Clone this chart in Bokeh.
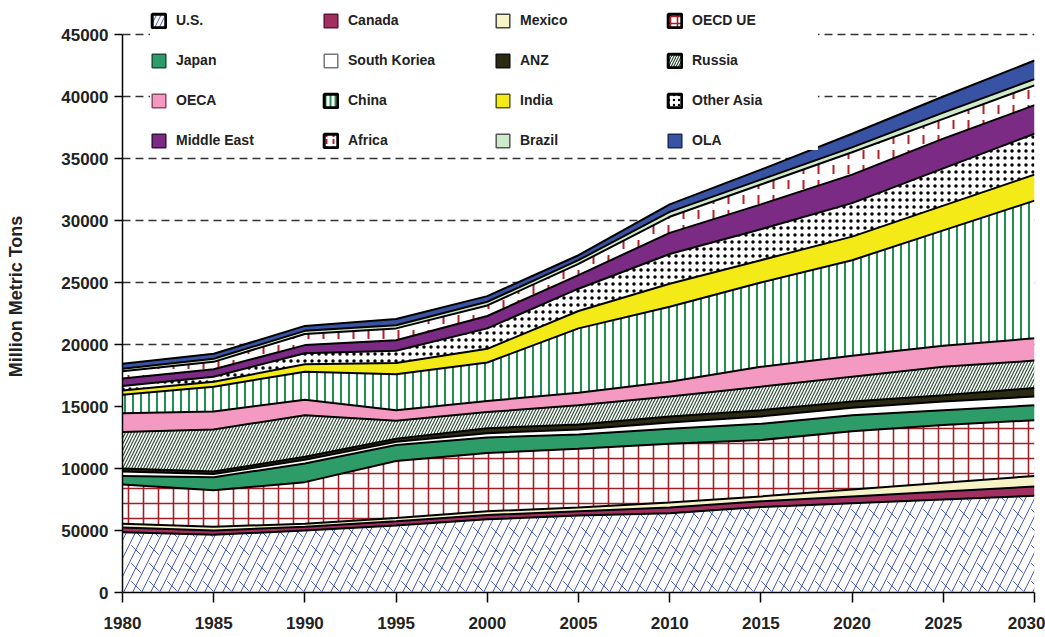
from bokeh.plotting import figure
from bokeh.models import ColumnDataSource, Range1d, FixedTicker, Legend, LegendItem
from bokeh.transform import stack
from bokeh.embed import file_html
from bokeh.resources import INLINE

FONT = "Liberation Sans"

# ---------------- data (million metric tons) ----------------
years = [1980, 1985, 1990, 1995, 2000, 2005, 2010, 2015, 2020, 2025, 2030]
us          = [4850, 4650, 5000, 5400, 5900, 6200, 6400, 6900, 7200, 7500, 7800]
canada      = [400, 350, 300, 350, 350, 350, 450, 450, 550, 650, 750]
mexico      = [300, 300, 250, 250, 300, 300, 400, 400, 550, 700, 850]
oecd_ue     = [3150, 2950, 3350, 4600, 4700, 4750, 4750, 4550, 4700, 4650, 4500]
japan       = [700, 1050, 1500, 1300, 1250, 1150, 1200, 1300, 1300, 1200, 1200]
south_korea = [350, 250, 300, 250, 350, 400, 500, 600, 600, 700, 700]
anz         = [250, 200, 250, 250, 400, 400, 500, 500, 500, 500, 700]
russia      = [2950, 3400, 3350, 1450, 1300, 1550, 1600, 1900, 2000, 2300, 2200]
oeca        = [1500, 1450, 1250, 850, 900, 1000, 1200, 1600, 1700, 1700, 1800]
china       = [1500, 2000, 2250, 2900, 3100, 5200, 6050, 6800, 7700, 9300, 11100]
india       = [350, 400, 600, 900, 1100, 1400, 1850, 1800, 1900, 2000, 2100]
other_asia  = [350, 400, 900, 1000, 1650, 1800, 2400, 2500, 2700, 3000, 3300]
middle_east = [600, 600, 650, 850, 1000, 1100, 1700, 2000, 2300, 2400, 2300]
africa      = [600, 600, 900, 950, 850, 900, 1300, 1600, 1800, 1600, 1600]
brazil      = [200, 250, 250, 250, 300, 300, 400, 400, 400, 500, 500]
ola         = [400, 400, 400, 500, 450, 400, 600, 800, 1100, 1300, 1500]

series_names = ["U.S.", "Canada", "Mexico", "OECD UE", "Japan", "South Koriea", "ANZ", "Russia",
                "OECA", "China", "India", "Other Asia", "Middle East", "Africa", "Brazil", "OLA"]
series_values = [us, canada, mexico, oecd_ue, japan, south_korea, anz, russia,
                 oeca, china, india, other_asia, middle_east, africa, brazil, ola]

y_ticks = [0, 5000, 10000, 15000, 20000, 25000, 30000, 35000, 40000, 45000]
y_tick_labels = ["0", "50000", "10000", "15000", "20000", "25000", "30000", "35000", "40000", "45000"]
x_ticks = [1980, 1985, 1990, 1995, 2000, 2005, 2010, 2015, 2020, 2025, 2030]

# ---------------- styles ----------------
styles = {
    "U.S.":        dict(fill="white", hatch="/", hcolor="#4a5cc6", hscale=18, hweight=1.0, legend_line="black", lw=3),
    "Canada":      dict(fill="#a0305f", legend_line="#5e1536", lw=1.5),
    "Mexico":      dict(fill="#f6f3c6", legend_line="#444444", lw=1.5),
    "OECD UE":     dict(fill="white", hatch="+", hcolor="#a11f27", hscale=15, hweight=1.6, legend_line="black", lw=3),
    "Japan":       dict(fill="#2e9c68", legend_line="#1c4f36", lw=1.5),
    "South Koriea": dict(fill="white", legend_line="#777777", lw=1.5),
    "ANZ":         dict(fill="#2b2a12", legend_line="#111111", lw=1.5),
    "Russia":      dict(fill="white", hatch="/", hcolor="#2f4f38", hscale=6, hweight=1.2, legend_line="black", lw=3),
    "OECA":        dict(fill="#f49ac2", legend_line="#8a4a66", lw=1.5),
    "China":       dict(fill="white", hatch="|", hcolor="#1f8f52", hscale=8, hweight=2.0, legend_line="black", lw=3),
    "India":       dict(fill="#f3ea17", legend_line="#5a5a10", lw=1.5),
    "Other Asia":  dict(fill="white", hatch=".", hcolor="black", hscale=7, hweight=1.3, legend_line="black", lw=3),
    "Middle East": dict(fill="#7b2b83", legend_line="#3a123e", lw=1.5),
    "Africa":      dict(fill="white", hatch=":", hcolor="#b3202a", hscale=15, hweight=2.0, legend_line="black", lw=3),
    "Brazil":      dict(fill="#cdeacb", legend_line="#555555", lw=1.5),
    "OLA":         dict(fill="#3853a4", legend_line="#1c2a5a", lw=1.5),
}

keys = ["s%d" % i for i in range(len(series_names))]
data = {"year": years}
for k, v in zip(keys, series_values):
    data[k] = v
src = ColumnDataSource(data)

# frame: page x 122..1034, page y 0..592
p = figure(width=1045, height=637, output_backend="svg", toolbar_location=None,
           x_range=Range1d(1980, 2030), y_range=Range1d(0, 47742),
           min_border_left=122, min_border_right=11, min_border_top=0, min_border_bottom=45,
           background_fill_color="white", border_fill_color="white")
p.outline_line_color = None

for i, (k, name) in enumerate(zip(keys, series_names)):
    st = styles[name]
    y1 = 0 if i == 0 else stack(*keys[:i])
    y2 = stack(*keys[:i + 1])
    kw = dict(x="year", y1=y1, y2=y2, source=src, fill_color=st["fill"])
    if "hatch" in st:
        kw.update(hatch_pattern=st["hatch"], hatch_color=st["hcolor"],
                  hatch_scale=st["hscale"], hatch_weight=st["hweight"])
    p.varea(**kw)
    if name == "U.S.":
        p.varea(x="year", y1=0, y2=y2, source=src, fill_alpha=0,
                hatch_pattern="`", hatch_color=st["hcolor"], hatch_scale=18, hatch_weight=1.0)

for i in range(len(keys)):
    p.line(x="year", y=stack(*keys[:i + 1]), source=src, line_color="black", line_width=2)

# ---------------- axes ----------------
p.xaxis.ticker = FixedTicker(ticks=x_ticks)
p.xaxis.bounds = (1980, 2030)
p.xaxis.major_tick_out = 10
p.xaxis.major_tick_in = 0
p.xaxis.minor_tick_line_color = None
p.xaxis.major_label_standoff = 14
p.xaxis.major_label_text_font = FONT
p.xaxis.major_label_text_font_style = "bold"
p.xaxis.major_label_text_font_size = "17px"
p.xaxis.major_label_text_color = "#222222"

p.yaxis.ticker = FixedTicker(ticks=y_ticks)
p.yaxis.major_label_overrides = {t: l for t, l in zip(y_ticks, y_tick_labels)}
p.yaxis.bounds = (0, 45000)
p.yaxis.major_tick_out = 8
p.yaxis.major_tick_in = 0
p.yaxis.minor_tick_line_color = None
p.yaxis.major_label_standoff = 6
p.yaxis.major_label_text_font = FONT
p.yaxis.major_label_text_font_style = "bold"
p.yaxis.major_label_text_font_size = "17px"
p.yaxis.major_label_text_color = "#222222"
p.yaxis.axis_label = "Million Metric Tons"
p.yaxis.axis_label_text_font = FONT
p.yaxis.axis_label_text_font_style = "bold"
p.yaxis.axis_label_text_font_size = "18px"
p.yaxis.axis_label_text_color = "#222222"
p.yaxis.axis_label_standoff = 32

for ax in (p.xaxis, p.yaxis):
    ax.axis_line_color = "black"
    ax.axis_line_width = 1.5
    ax.major_tick_line_color = "black"
    ax.major_tick_line_width = 1.5

p.xgrid.visible = False
p.ygrid.ticker = FixedTicker(ticks=y_ticks)
p.ygrid.grid_line_color = "#333333"
p.ygrid.grid_line_dash = "8 5"
p.ygrid.grid_line_width = 1.5

# ---------------- legend ----------------
nan = float("nan")
items = []
for name in series_names:
    st = styles[name]
    kw = dict(left=[nan], right=[nan], top=[nan], bottom=[nan], fill_color=st["fill"],
              line_color=st["legend_line"], line_width=st["lw"])
    if "hatch" in st:
        kw.update(hatch_pattern=st["hatch"], hatch_color=st["hcolor"],
                  hatch_scale=max(5, st["hscale"] // 2), hatch_weight=st["hweight"])
    r = p.quad(**kw)
    items.append(LegendItem(label=name, renderers=[r]))

legend = Legend(items=items, orientation="horizontal", ncols=4, location=(28, 442),
                glyph_width=17, glyph_height=17, label_standoff=9, label_width=126,
                label_height=20, spacing=20, padding=28, margin=0,
                border_line_color=None, background_fill_color="white", background_fill_alpha=1.0,
                label_text_font=FONT, label_text_font_style="bold",
                label_text_font_size="14px", label_text_color="#222222")
p.add_layout(legend)

open("out.html", "w").write(file_html(p, INLINE))
